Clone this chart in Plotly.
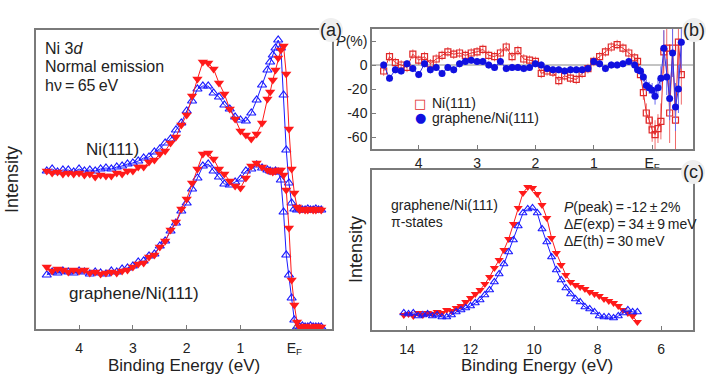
import plotly.graph_objects as go

W, H = 723, 378

# ---------------- Panel (a): Ni 3d spectra ----------------
energy_a = [4.6, 4.5, 4.4, 4.3, 4.2, 4.1, 4.0, 3.9, 3.8, 3.7, 3.6, 3.5, 3.4, 3.3, 3.2, 3.1,
            3.0, 2.9, 2.8, 2.7, 2.6, 2.5, 2.4, 2.3, 2.2, 2.1, 2.0, 1.9, 1.8, 1.7, 1.6, 1.5,
            1.4, 1.3, 1.2, 1.1, 1.0, 0.9, 0.8, 0.7, 0.6, 0.5,
            0.45, 0.4, 0.35, 0.3, 0.25, 0.2, 0.15, 0.1, 0.05, 0.0, -0.05, -0.1, -0.15,
            -0.2, -0.25, -0.3, -0.35, -0.4, -0.45, -0.5]
ni_up = [158, 160, 157, 159, 159, 157, 160, 158, 159, 158, 160, 161, 160, 162, 163, 165,
         166, 168, 171, 172, 177, 180, 186, 190, 199, 206, 218, 228, 240, 243, 243, 236,
         232, 224, 220, 212, 209, 208, 216, 229, 244, 259,
         267, 274, 281, 289, 281, 234, 179, 146, 126, 120, 119, 120, 119,
         119, 120, 119, 119, 120, 119, 119]
ni_down = [158, 156, 157, 155, 156, 155, 156, 154, 155, 152, 154, 153, 153, 156, 155, 158,
           158, 162, 162, 167, 169, 175, 178, 186, 192, 204, 214, 233, 250, 267, 266, 260,
           246, 235, 220, 210, 198, 194, 190, 195, 206, 230,
           237, 249, 259, 271, 279, 283, 255, 200, 160, 136, 122, 119, 120,
           119, 119, 120, 119, 119, 120, 119]
gr_up = [54, 57, 56, 58, 57, 56, 58, 57, 55, 57, 56, 55, 58, 57, 60, 61,
         63, 67, 68, 73, 75, 83, 88, 98, 106, 118, 126, 140, 151, 163, 165, 158,
         152, 145, 144, 147, 150, 158, 160, 164, 161, 159,
         158, 157, 158, 157, 149, 117, 74, 54, 31, 9, 2, 2, 3,
         2, 2, 3, 2, 2, 2, 2]
gr_down = [62, 58, 60, 59, 57, 59, 58, 59, 56, 57, 55, 56, 57, 56, 58, 59,
           62, 65, 66, 72, 74, 82, 88, 99, 107, 120, 130, 146, 160, 175, 176, 170,
           160, 155, 148, 143, 141, 151, 163, 166, 162, 159,
           158, 157, 158, 159, 159, 154, 139, 101, 49, 24, 7, 2, 2,
           3, 2, 2, 2, 3, 2, 2]

# ---------------- Panel (b): spin polarization ----------------
energy_b = [4.6, 4.5, 4.4, 4.3, 4.2, 4.1, 4.0, 3.9, 3.8, 3.7, 3.6, 3.5, 3.4, 3.3, 3.2, 3.1,
            3.0, 2.9, 2.8, 2.7, 2.6, 2.5, 2.4, 2.3, 2.2, 2.1, 2.0, 1.9, 1.8, 1.7, 1.6, 1.5,
            1.4, 1.3, 1.2, 1.1, 1.0, 0.9, 0.8, 0.7, 0.6, 0.5, 0.4, 0.3,
            0.25, 0.2, 0.15, 0.1, 0.05, 0.0, -0.05, -0.1, -0.15, -0.2, -0.25, -0.3,
            -0.35, -0.4, -0.45, -0.5]
p_ni = [-5, 7, 2, 0, -2, 9, 4, 7, 1, 5, 8, 11, 9, 10, 8, 10,
        11, 13, 8, 7, 10, 15, 7, 12, 5, 4, 3, -7, -5, -6, -13, -9,
        -11, -12, -7, -3, 3, 7, 11, 15, 17, 14, 10, 6,
        3, -8, -23, -40, -46, -54, -58, -53, -47, 11, 14, -40, 14, -46, 19, -8]
err_ni = [4, 4, 4, 4, 4, 4, 4, 4, 4, 4, 4, 4, 4, 4, 4, 4,
          4, 4, 4, 4, 4, 4, 4, 4, 4, 4, 4, 4, 4, 4, 4, 4,
          4, 4, 4, 4, 4, 4, 4, 4, 4, 4, 4, 4,
          4, 5, 6, 8, 8, 10, 12, 12, 15, 18, 18, 25, 22, 25, 25, 25]
p_gr = [0, -11, -4, -5, 1, -3, -8, 1, -4, -2, -7, -2, -4, 1, 3, 4,
        3, 3, 0, -2, 3, -3, -2, -2, -3, -2, 1, 0, -3, -4, -4, -5,
        -4, -4, -4, -3, 3, 1, -3, 0, 0, 1, 3, 0,
        -4, -5, -10, -17, -19, -21, -26, -19, -11, 14, -10, -28, 10, -35, -20, 19]
err_gr = [3, 3, 3, 3, 3, 3, 3, 3, 3, 3, 3, 3, 3, 3, 3, 3,
          3, 3, 3, 3, 3, 3, 3, 3, 3, 3, 3, 3, 3, 3, 3, 3,
          3, 3, 3, 3, 3, 3, 3, 3, 3, 3, 3, 3,
          3, 4, 4, 5, 5, 6, 7, 8, 10, 15, 15, 18, 20, 20, 20, 22]

# ---------------- Panel (c): graphene pi states ----------------
energy_c = [14.1, 13.95, 13.8, 13.65, 13.5, 13.35, 13.2, 13.05, 12.9, 12.75, 12.6, 12.45,
            12.3, 12.15, 12.0, 11.85, 11.7, 11.55, 11.4, 11.25, 11.1, 10.95, 10.8, 10.65,
            10.5, 10.35, 10.2, 10.05, 9.9, 9.75, 9.6, 9.45, 9.3, 9.15, 9.0, 8.85, 8.7,
            8.55, 8.4, 8.25, 8.1, 7.95, 7.8, 7.65, 7.5, 7.35, 7.2, 7.05, 6.9, 6.75]
pi_down = [15, 16, 14, 17, 15, 17, 16, 18, 17, 20, 19, 22, 24, 28, 32, 36, 40, 46, 53, 62,
           70, 80, 91, 106, 122, 137, 143, 142, 136, 125, 112, 92, 77, 65, 55, 48, 45, 43,
           41, 38, 36, 34, 31, 29, 27, 24, 20, 17, 14, 8]
pi_up = [17, 16, 17, 14, 15, 16, 14, 15, 13, 13, 15, 18, 20, 22, 24, 27, 30, 35, 40, 48,
         56, 66, 78, 90, 104, 117, 121, 122, 117, 101, 88, 73, 60, 50, 42, 36, 31, 28,
         23, 21, 18, 14, 13, 13, 12, 14, 17, 20, 18, 18]

ticks_a = [4, 3, 2, 1, 0]
ticklabels_a = ["4", "3", "2", "1", "E<sub>F</sub>"]
ticks_c = [14, 12, 10, 8, 6]
ticks_p = [20, 0, -20, -40, -60]
ticklabels_p = ["<i>P</i>(%)", "0", "-20", "-40", "-60"]

BLUE = "#1a1aff"
RED = "#ff1a1a"
FONT = "Liberation Sans, Arial, sans-serif"
TXT = "#222222"
AX = "#7a7a7a"

fig = go.Figure()

# (a)
for ys in (ni_up, gr_up):
    fig.add_trace(go.Scatter(x=energy_a, y=ys, mode="lines+markers", showlegend=False,
                             line=dict(color=BLUE, width=1),
                             marker=dict(symbol="triangle-up-open", size=8, color=BLUE,
                                         line=dict(width=1.2, color=BLUE)),
                             xaxis="x", yaxis="y"))
for ys in (ni_down, gr_down):
    fig.add_trace(go.Scatter(x=energy_a, y=ys, mode="lines+markers", showlegend=False,
                             line=dict(color=RED, width=1),
                             marker=dict(symbol="triangle-down", size=9, color=RED),
                             xaxis="x", yaxis="y"))

# (b)
fig.add_trace(go.Scatter(x=energy_b, y=p_ni, mode="lines+markers", showlegend=False,
                         line=dict(color="#e83030", width=1),
                         error_y=dict(type="data", array=err_ni, color="#f06a6a", thickness=1, width=0),
                         marker=dict(symbol="square-open", size=6, color="#e02828",
                                     line=dict(width=1.2, color="#e02828")),
                         xaxis="x2", yaxis="y2"))
fig.add_trace(go.Scatter(x=energy_b, y=p_gr, mode="lines+markers", showlegend=False,
                         line=dict(color="#3030e8", width=1),
                         error_y=dict(type="data", array=err_gr, color="#6a6af0", thickness=1, width=0),
                         marker=dict(symbol="circle", size=7, color="#1010e0"),
                         xaxis="x2", yaxis="y2"))

# (c)
fig.add_trace(go.Scatter(x=energy_c, y=pi_down, mode="lines+markers", showlegend=False,
                         line=dict(color=RED, width=1),
                         marker=dict(symbol="triangle-down", size=8, color=RED),
                         xaxis="x3", yaxis="y3"))
fig.add_trace(go.Scatter(x=energy_c, y=pi_up, mode="lines+markers", showlegend=False,
                         line=dict(color=BLUE, width=1),
                         marker=dict(symbol="triangle-up-open", size=7, color=BLUE,
                                     line=dict(width=1.2, color=BLUE)),
                         xaxis="x3", yaxis="y3"))


def px(x):
    return x / W


def py(y):
    return 1 - y / H


axis_common = dict(showline=True, linecolor=AX, linewidth=1.5, mirror=True,
                   showgrid=False, zeroline=False, ticklen=4,
                   tickcolor=AX, tickfont=dict(family=FONT, size=14, color=TXT))

fig.update_layout(
    width=W, height=H, margin=dict(l=0, r=0, t=0, b=0),
    paper_bgcolor="white", plot_bgcolor="white",
    font=dict(family=FONT, color=TXT),
    xaxis=dict(domain=[px(36), px(332)], range=[4.8, -0.7], anchor="y", ticks="inside",
               tickmode="array", tickvals=ticks_a, ticktext=ticklabels_a,
               ticklabelstandoff=5, **axis_common),
    yaxis=dict(domain=[py(329), py(30)], range=[0, 299], anchor="x",
               showticklabels=False, ticks="", **axis_common),
    xaxis2=dict(domain=[px(372), px(693)], range=[4.8, -0.7], anchor="y2", ticks="inside",
                tickmode="array", tickvals=ticks_a, ticktext=ticklabels_a, **axis_common),
    yaxis2=dict(domain=[py(149), py(29)], range=[-70, 30], anchor="x2", ticks="inside",
                tickmode="array", tickvals=ticks_p, ticktext=ticklabels_p, **axis_common),
    xaxis3=dict(domain=[px(372), px(693)], range=[15.1, 5.0], anchor="y3", ticks="inside",
                tickmode="array", tickvals=ticks_c, ticklabelstandoff=5, **axis_common),
    yaxis3=dict(domain=[py(330), py(170)], range=[0, 160], anchor="x3",
                showticklabels=False, ticks="", **axis_common),
)

# zero line in (b)
fig.add_shape(type="line", xref="x2 domain", yref="y2", x0=0, x1=1, y0=0, y1=0,
              line=dict(color="#888888", width=1), layer="below")

# panel label bubbles
for cx, cy, lab in [(331, 30, "(a)"), (694, 30, "(b)"), (693, 172, "(c)")]:
    r = 12
    fig.add_shape(type="circle", xref="paper", yref="paper",
                  x0=px(cx - r), x1=px(cx + r), y0=py(cy + r), y1=py(cy - r),
                  fillcolor="#efefef", line=dict(width=0), layer="above")
    fig.add_annotation(x=px(cx), y=py(cy), xref="paper", yref="paper", text=lab,
                       showarrow=False, font=dict(size=18, family=FONT, color=TXT),
                       xanchor="center", yanchor="middle")


def txt(x, y, s, size, anchor="left", angle=0):
    fig.add_annotation(x=px(x), y=py(y), xref="paper", yref="paper", text=s,
                       showarrow=False, font=dict(size=size, family=FONT, color=TXT),
                       xanchor=anchor, yanchor="middle", textangle=angle)


# (a) texts
txt(43, 48, "Ni 3<i>d</i>", 16)
txt(43, 67, "Normal emission", 16)
txt(43, 86, "h\u03bd\u2009=\u200965\u2009eV", 16)
txt(112, 150, "Ni(111)", 17, "center")
txt(134, 293, "graphene/Ni(111)", 17, "center")
txt(184, 365, "Binding Energy (eV)", 17, "center")
txt(12, 180, "Intensity", 18, "center", -90)

# (b) legend
fig.add_annotation(x=px(420), y=py(103), xref="paper", yref="paper", text="\u25a1",
                   showarrow=False, font=dict(size=13, family="DejaVu Sans", color="#e02828"),
                   xanchor="center", yanchor="middle")
fig.add_annotation(x=px(420), y=py(118), xref="paper", yref="paper", text="\u25cf",
                   showarrow=False, font=dict(size=13, family="DejaVu Sans", color="#1010e0"),
                   xanchor="center", yanchor="middle")
txt(430, 103, "Ni(111)", 14)
txt(430, 118, "graphene/Ni(111)", 14)

# (c) texts
txt(389, 205, "graphene/Ni(111)", 14)
txt(389, 222, "\u03c0-states", 14)
txt(562, 207, "<i>P</i>(peak)\u2009=\u2009-12\u2009\u00b1\u20092%", 14)
txt(562, 224, "\u0394<i>E</i>(exp)\u2009=\u200934\u2009\u00b1\u20099\u2009meV", 14)
txt(562, 241, "\u0394<i>E</i>(th)\u2009=\u200930\u2009meV", 14)
txt(537, 365, "Binding Energy (eV)", 17, "center")
txt(356, 250, "Intensity", 18, "center", -90)

fig.write_html("out.html", config={"displayModeBar": False},
               post_script="document.body.style.margin='0';document.body.style.overflow='hidden';")
